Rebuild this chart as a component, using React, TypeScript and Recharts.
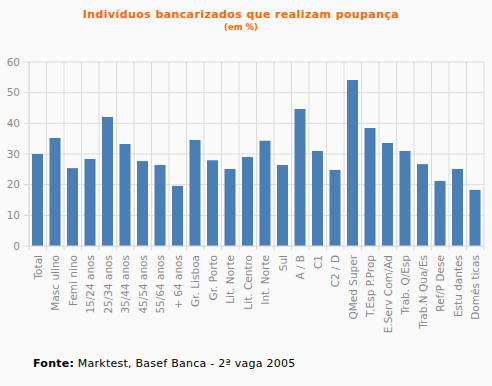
import React from 'react';
import { BarChart, Bar, XAxis, YAxis, CartesianGrid } from 'recharts';

const CATEGORIES = [
  'Total', 'Masc ulino', 'Femi nino', '15/24 anos', '25/34 anos', '35/44 anos', '45/54 anos',
  '55/64 anos', '+ 64 anos', 'Gr. Lisboa', 'Gr. Porto', 'Lit. Norte', 'Lit. Centro', 'Int. Norte',
  'Sul', 'A / B', 'C1', 'C2 / D', 'QMed Super', 'T.Esp P.Prop', 'E.Serv Com/Ad', 'Trab. Q/Esp',
  'Trab.N Qua/Es', 'Ref/P Dese', 'Estu dantes', 'Domés ticas',
];
const VALUES = [
  30.0, 35.2, 25.4, 28.4, 42.1, 33.3, 27.7, 26.4, 19.6, 34.6, 28.0, 25.1, 29.0,
  34.3, 26.4, 44.7, 31.0, 24.8, 54.1, 38.5, 33.6, 31.0, 26.7, 21.2, 25.1, 18.3,
];
const Y_TICKS = [0, 10, 20, 30, 40, 50, 60];

const data = CATEGORIES.map((name, i) => ({ name, value: VALUES[i] }));

const W = 492;
const H = 386;
const LEFT = 29;
const RIGHT = 8;
const TOP = 62;
const BAND = (W - LEFT - RIGHT) / CATEGORIES.length;
const GRID = '#dcdcdc';
const FONT = '"DejaVu Sans", Verdana, sans-serif';

// label rotated + boundary tick marks like the original
const CategoryTick = (props: any) => {
  const { x, y, payload, index } = props;
  const half = BAND / 2;
  return (
    <g>
      <line x1={x - half} x2={x - half} y1={y} y2={y + 4} stroke={GRID} />
      {index === CATEGORIES.length - 1 && (
        <line x1={x + half} x2={x + half} y1={y} y2={y + 4} stroke={GRID} />
      )}
      <text
        x={x + 4}
        y={y + 9}
        transform={`rotate(-90 ${x + 4} ${y + 9})`}
        textAnchor="end"
        fontSize={10.5}
        fill="#8a8a8a"
        fontFamily={FONT}
      >
        {payload.value}
      </text>
    </g>
  );
};

export default function App() {
  return (
    <div style={{ position: 'absolute', left: 0, top: 0, width: W, height: H, background: '#fafafa', fontFamily: FONT }}>
      <div style={{ position: 'absolute', top: 8, left: 0, width: W - 10, textAlign: 'center', color: '#ff6600', fontWeight: 'bold', fontSize: 11, letterSpacing: 0.4 }}>
        Indivíduos bancarizados que realizam poupança
      </div>
      <div style={{ position: 'absolute', top: 22, left: 0, width: W - 10, textAlign: 'center', color: '#ff6600', fontWeight: 'bold', fontSize: 8.5 }}>
        (em %)
      </div>
      <BarChart
        width={W}
        height={H}
        data={data}
        margin={{ top: TOP, right: RIGHT, left: 0, bottom: 50 }}
        barCategoryGap={0}
      >
        <CartesianGrid
          stroke={GRID}
          strokeWidth={1}
          verticalCoordinatesGenerator={({ offset }: any) =>
            Array.from({ length: CATEGORIES.length + 1 }, (_, i) => offset.left + i * BAND)
          }
        />
        <XAxis
          dataKey="name"
          interval={0}
          height={90}
          axisLine={{ stroke: GRID }}
          tickLine={false}
          tickSize={0}
          tickMargin={0}
          tick={<CategoryTick />}
        />
        <YAxis
          width={LEFT}
          domain={[0, 60]}
          ticks={Y_TICKS}
          axisLine={{ stroke: GRID }}
          tickLine={{ stroke: GRID }}
          tickSize={5}
          tickMargin={4}
          tick={{ fontSize: 10.5, fill: '#8a8a8a', fontFamily: FONT }}
        />
        <Bar dataKey="value" fill="#4a7fb6" barSize={11} isAnimationActive={false} />
      </BarChart>
      <div style={{ position: 'absolute', top: 357, left: 33, fontSize: 11, letterSpacing: 0.25, color: '#000' }}>
        <b>Fonte:</b> Marktest, Basef Banca - 2ª vaga 2005
      </div>
    </div>
  );
}
